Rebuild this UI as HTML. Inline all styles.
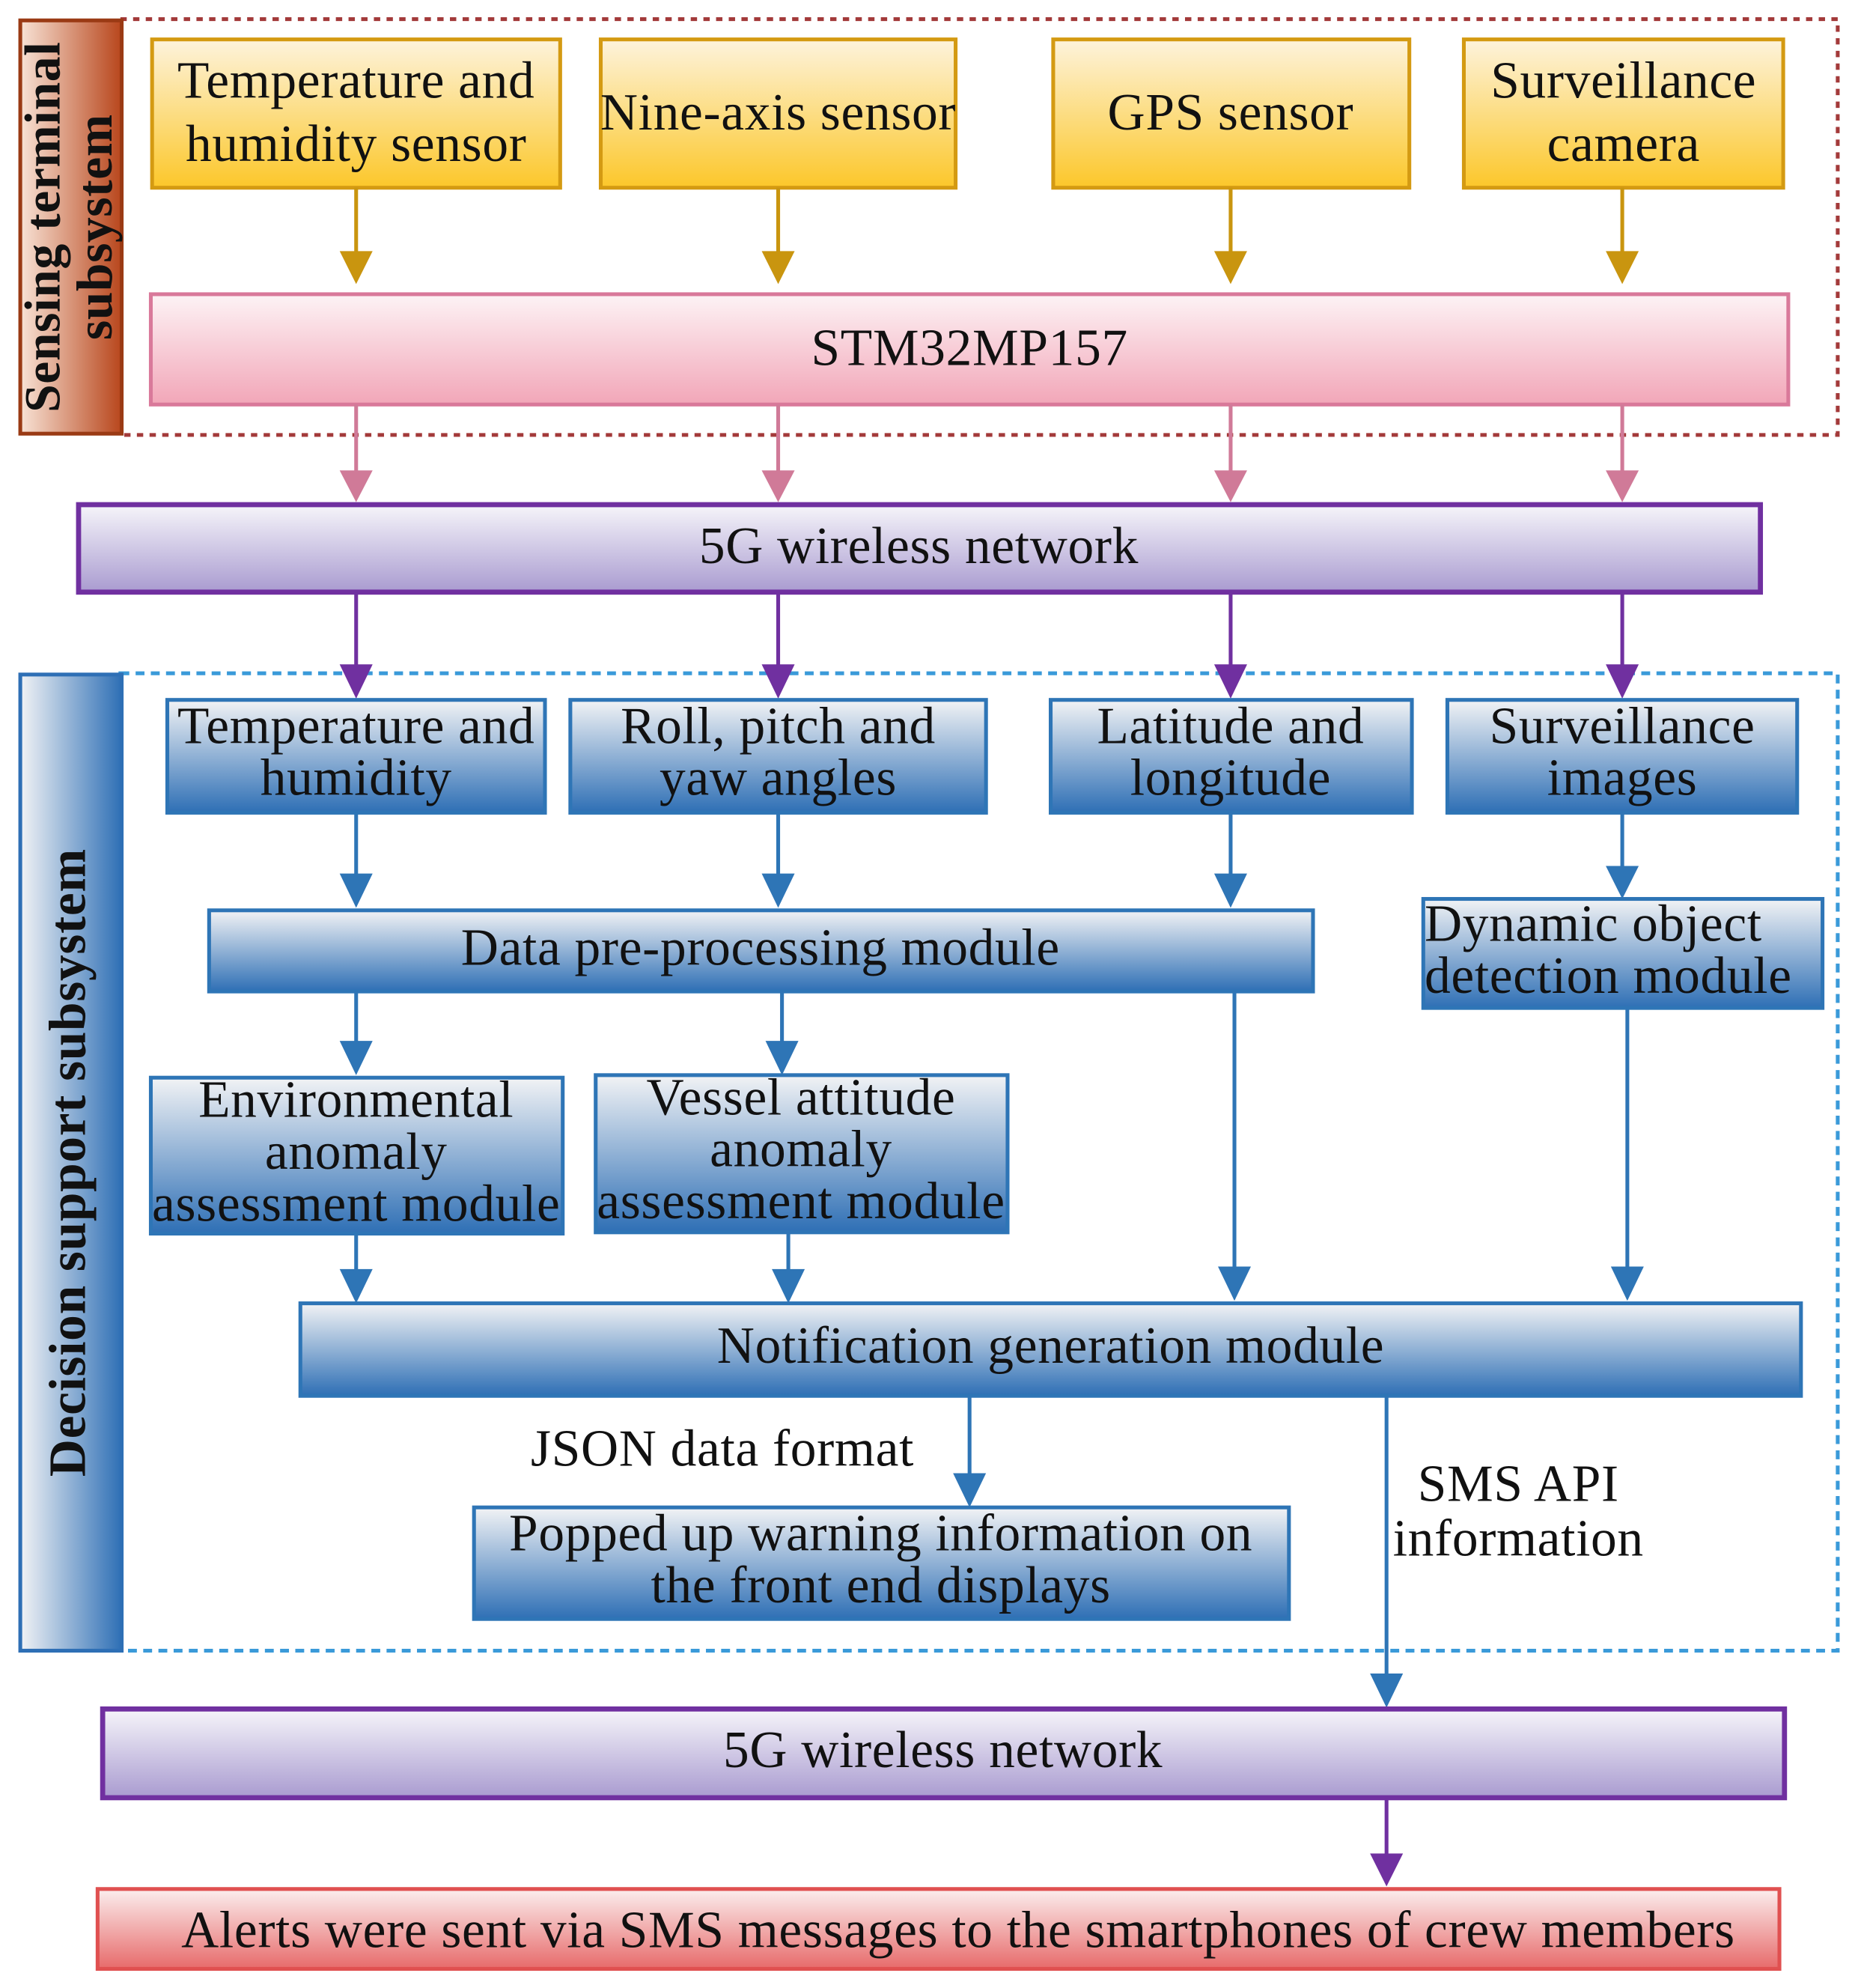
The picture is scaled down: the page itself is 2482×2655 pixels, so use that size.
<!DOCTYPE html>
<html><head><meta charset="utf-8"><style>
html,body{margin:0;padding:0;background:#fff;}
svg{display:block;}
text{font-family:"Liberation Serif",serif;fill:#111;}
</style></head><body>
<svg width="2482" height="2655" viewBox="0 0 1466 1568" xmlns="http://www.w3.org/2000/svg">
<defs>
<linearGradient id="gold" x1="0" y1="0" x2="0" y2="1"><stop offset="0" stop-color="#fdf3dc"/><stop offset="1" stop-color="#fcc72a"/></linearGradient>
<linearGradient id="pink" x1="0" y1="0" x2="0" y2="1"><stop offset="0" stop-color="#fdf3f5"/><stop offset="1" stop-color="#f2a6b8"/></linearGradient>
<linearGradient id="purp" x1="0" y1="0" x2="0" y2="1"><stop offset="0" stop-color="#f6f5fa"/><stop offset="1" stop-color="#a99bd0"/></linearGradient>
<linearGradient id="blue" x1="0" y1="0" x2="0" y2="1"><stop offset="0" stop-color="#f2f3f5"/><stop offset="1" stop-color="#2e6fb5"/></linearGradient>
<linearGradient id="red" x1="0" y1="0" x2="0" y2="1"><stop offset="0" stop-color="#fbeeee"/><stop offset="1" stop-color="#e76a6a"/></linearGradient>
<linearGradient id="orng" x1="0" y1="0" x2="1" y2="0"><stop offset="0" stop-color="#f8e3d6"/><stop offset="1" stop-color="#b8461c"/></linearGradient>
<linearGradient id="sideb" x1="0" y1="0" x2="1" y2="0"><stop offset="0" stop-color="#f2f3f5"/><stop offset="1" stop-color="#2e6fb5"/></linearGradient>
</defs>

<rect x="95" y="15" width="1355" height="328" fill="none" stroke="#a33a3a" stroke-width="3" stroke-dasharray="5,5"/>
<rect x="95" y="531" width="1355" height="771" fill="none" stroke="#3a9ad9" stroke-width="3" stroke-dasharray="7,5"/>

<rect x="16" y="16" width="80" height="326" fill="url(#orng)" stroke="#9a3a14" stroke-width="3"/>
<text transform="translate(47,179) rotate(-90)" text-anchor="middle" font-size="40" font-weight="bold" letter-spacing="0.3">Sensing terminal</text>
<text transform="translate(88,179) rotate(-90)" text-anchor="middle" font-size="40" font-weight="bold" letter-spacing="0.3">subsystem</text>
<rect x="16" y="532" width="80" height="770" fill="url(#sideb)" stroke="#2e6fb5" stroke-width="3"/>
<text transform="translate(67,917) rotate(-90)" text-anchor="middle" font-size="41" font-weight="bold" letter-spacing="0.4">Decision support subsystem</text>

<g stroke="#d49a12" stroke-width="3" fill="url(#gold)">
<rect x="120" y="31" width="322" height="117"/>
<rect x="474" y="31" width="280" height="117"/>
<rect x="831" y="31" width="281" height="117"/>
<rect x="1155" y="31" width="252" height="117"/>
</g>
<g font-size="41" letter-spacing="0.4" text-anchor="middle">
<text x="281" y="77">Temperature and</text><text x="281" y="127">humidity sensor</text>
<text x="614" y="102">Nine-axis sensor</text>
<text x="971" y="102">GPS sensor</text>
<text x="1281" y="77">Surveillance</text><text x="1281" y="127">camera</text>
</g>

<g stroke="#c9950f" stroke-width="3"><line x1="281" y1="148" x2="281" y2="205"/><line x1="614" y1="148" x2="614" y2="205"/><line x1="971" y1="148" x2="971" y2="205"/><line x1="1280" y1="148" x2="1280" y2="205"/></g>
<g fill="#c9950f"><path d="M268,198 L294,198 L281,224Z"/><path d="M601,198 L627,198 L614,224Z"/><path d="M958,198 L984,198 L971,224Z"/><path d="M1267,198 L1293,198 L1280,224Z"/></g>

<rect x="119" y="232" width="1292" height="87" fill="url(#pink)" stroke="#d9799a" stroke-width="3"/>
<text x="765" y="288" font-size="41" letter-spacing="0.4" text-anchor="middle">STM32MP157</text>

<g stroke="#d07a98" stroke-width="3"><line x1="281" y1="319" x2="281" y2="378"/><line x1="614" y1="319" x2="614" y2="378"/><line x1="971" y1="319" x2="971" y2="378"/><line x1="1280" y1="319" x2="1280" y2="378"/></g>
<g fill="#d07a98"><path d="M268,371 L294,371 L281,396Z"/><path d="M601,371 L627,371 L614,396Z"/><path d="M958,371 L984,371 L971,396Z"/><path d="M1267,371 L1293,371 L1280,396Z"/></g>

<rect x="62" y="398" width="1327" height="69" fill="url(#purp)" stroke="#7030a0" stroke-width="4"/>
<text x="725" y="444" font-size="41" letter-spacing="0.4" text-anchor="middle">5G wireless network</text>

<g stroke="#7030a0" stroke-width="3"><line x1="281" y1="467" x2="281" y2="530"/><line x1="614" y1="467" x2="614" y2="530"/><line x1="971" y1="467" x2="971" y2="530"/><line x1="1280" y1="467" x2="1280" y2="530"/></g>
<g fill="#7030a0"><path d="M268,524 L294,524 L281,551Z"/><path d="M601,524 L627,524 L614,551Z"/><path d="M958,524 L984,524 L971,551Z"/><path d="M1267,524 L1293,524 L1280,551Z"/></g>

<g stroke="#2e75b6" stroke-width="3" fill="url(#blue)">
<rect x="132" y="552" width="298" height="89"/>
<rect x="450" y="552" width="328" height="89"/>
<rect x="829" y="552" width="285" height="89"/>
<rect x="1142" y="552" width="276" height="89"/>
<rect x="165" y="718" width="871" height="64"/>
<rect x="1123" y="709" width="315" height="86"/>
<rect x="119" y="850" width="325" height="123"/>
<rect x="470" y="848" width="325" height="124"/>
<rect x="237" y="1028" width="1184" height="73"/>
<rect x="374" y="1189" width="643" height="88"/>
</g>
<g font-size="41" letter-spacing="0.4" text-anchor="middle">
<text x="281" y="586">Temperature and</text><text x="281" y="627">humidity</text>
<text x="614" y="586">Roll, pitch and</text><text x="614" y="627">yaw angles</text>
<text x="971" y="586">Latitude and</text><text x="971" y="627">longitude</text>
<text x="1280" y="586">Surveillance</text><text x="1280" y="627">images</text>
<text x="600" y="761">Data pre-processing module</text>
<text x="1124" y="742" text-anchor="start">Dynamic object</text><text x="1124" y="783" text-anchor="start">detection module</text>
<text x="281" y="881">Environmental</text><text x="281" y="922">anomaly</text><text x="281" y="963">assessment module</text>
<text x="632" y="879">Vessel attitude</text><text x="632" y="920">anomaly</text><text x="632" y="961">assessment module</text>
<text x="829" y="1075">Notification generation module</text>
<text x="695" y="1223">Popped up warning information on</text><text x="695" y="1264">the front end displays</text>
<text x="570" y="1156">JSON data format</text>
<text x="1198" y="1184">SMS API</text><text x="1198" y="1227">information</text>
</g>

<g stroke="#2e75b6" stroke-width="3">
<line x1="281" y1="641" x2="281" y2="696"/><line x1="614" y1="641" x2="614" y2="696"/><line x1="971" y1="641" x2="971" y2="696"/><line x1="1280" y1="641" x2="1280" y2="690"/>
<line x1="281" y1="782" x2="281" y2="828"/><line x1="617" y1="782" x2="617" y2="828"/><line x1="974" y1="782" x2="974" y2="1006"/><line x1="1284" y1="795" x2="1284" y2="1006"/>
<line x1="281" y1="973" x2="281" y2="1008"/><line x1="622" y1="972" x2="622" y2="1008"/>
<line x1="765" y1="1101" x2="765" y2="1170"/><line x1="1094" y1="1101" x2="1094" y2="1327"/>
</g>
<g fill="#2e75b6">
<path d="M268,689 L294,689 L281,716Z"/><path d="M601,689 L627,689 L614,716Z"/><path d="M958,689 L984,689 L971,716Z"/><path d="M1267,683 L1293,683 L1280,709Z"/>
<path d="M268,821 L294,821 L281,848Z"/><path d="M604,821 L630,821 L617,848Z"/><path d="M961,999 L987,999 L974,1026Z"/><path d="M1271,999 L1297,999 L1284,1026Z"/>
<path d="M268,1001 L294,1001 L281,1028Z"/><path d="M609,1001 L635,1001 L622,1028Z"/>
<path d="M752,1162 L778,1162 L765,1189Z"/><path d="M1081,1320 L1107,1320 L1094,1347Z"/>
</g>

<rect x="81" y="1348" width="1327" height="70" fill="url(#purp)" stroke="#7030a0" stroke-width="4"/>
<text x="744" y="1394" font-size="41" letter-spacing="0.4" text-anchor="middle">5G wireless network</text>
<line x1="1094" y1="1418" x2="1094" y2="1468" stroke="#7030a0" stroke-width="3"/>
<path d="M1081,1462 L1107,1462 L1094,1488Z" fill="#7030a0"/>

<rect x="77" y="1490" width="1327" height="63" fill="url(#red)" stroke="#e05050" stroke-width="3"/>
<text x="756" y="1536" font-size="41" letter-spacing="0.4" text-anchor="middle">Alerts were sent via SMS messages to the smartphones of crew members</text>
</svg>
</body></html>
